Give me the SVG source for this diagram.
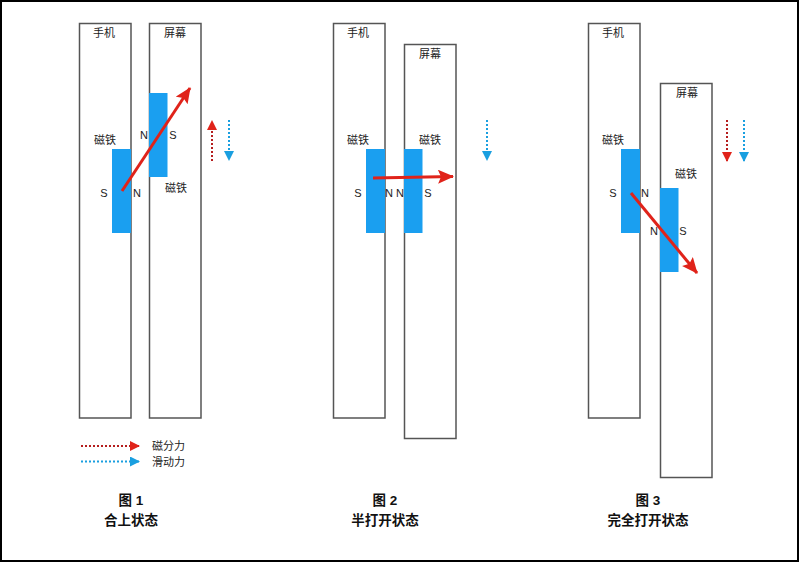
<svg xmlns="http://www.w3.org/2000/svg" width="800" height="563" viewBox="0 0 800 563">
<defs>
<style>
.body{fill:#fff;stroke:#555;stroke-width:1.5}
.mag{fill:#1a9ff0;stroke:none}
.lbl{font-family:"Liberation Sans","Noto Sans CJK SC",sans-serif;font-size:11px;fill:#222;text-anchor:middle;dominant-baseline:central}
.cap{font-family:"Liberation Sans","Noto Sans CJK SC",sans-serif;font-size:13.5px;font-weight:bold;fill:#111;text-anchor:middle;dominant-baseline:central}
.force{stroke:#e0231a;stroke-width:3;fill:none;marker-end:url(#bigHead)}
.rdot{stroke:#b51e1e;stroke-width:2;stroke-dasharray:2 2;fill:none;marker-end:url(#redHead)}
.bdot{stroke:#1a9fe0;stroke-width:2;stroke-dasharray:2 2;fill:none;marker-end:url(#blueHead)}
</style>
<marker id="bigHead" markerUnits="userSpaceOnUse" markerWidth="18" markerHeight="16" refX="15" refY="7" orient="auto">
<path d="M0,0 L16,7 L0,14 L3,7 Z" fill="#e0231a"/>
</marker>
<marker id="redHead" markerUnits="userSpaceOnUse" markerWidth="12" markerHeight="12" refX="9" refY="5" orient="auto">
<path d="M0,0 L10,5 L0,10 Z" fill="#e0231a"/>
</marker>
<marker id="blueHead" markerUnits="userSpaceOnUse" markerWidth="12" markerHeight="12" refX="9" refY="5" orient="auto">
<path d="M0,0 L10,5 L0,10 Z" fill="#1a9fe0"/>
</marker>
</defs>
<rect x="0" y="0" width="800" height="563" fill="#fff"/>
<rect x="1" y="1" width="797" height="560" fill="none" stroke="#000" stroke-width="2"/>

<!-- Figure 1 -->
<g id="fig1-phone">
<rect class="body" x="79.5" y="23.5" width="51.5" height="394.5"/>
<rect class="mag" x="112" y="149" width="19" height="84"/>
<text class="lbl" x="104" y="33">手机</text>
<text class="lbl" x="105" y="140">磁铁</text>
<text class="lbl" x="104" y="193">S</text>
<text class="lbl" x="137" y="193">N</text>
</g>
<g id="fig1-screen">
<rect class="body" x="149.5" y="23.5" width="51.5" height="394.5"/>
<rect class="mag" x="149" y="93" width="18.5" height="84"/>
<text class="lbl" x="175" y="33">屏幕</text>
<text class="lbl" x="144" y="135">N</text>
<text class="lbl" x="173" y="135">S</text>
<text class="lbl" x="176" y="188">磁铁</text>
</g>

<!-- Figure 2 -->
<g id="fig2-phone">
<rect class="body" x="333.5" y="23.5" width="51.5" height="394.5"/>
<rect class="mag" x="366" y="149" width="19" height="84"/>
<text class="lbl" x="358" y="33">手机</text>
<text class="lbl" x="358" y="140">磁铁</text>
<text class="lbl" x="358" y="193">S</text>
<text class="lbl" x="389" y="193">N</text>
</g>
<g id="fig2-screen">
<rect class="body" x="404.5" y="44.5" width="51.5" height="394"/>
<rect class="mag" x="404" y="149" width="18.5" height="84"/>
<text class="lbl" x="430" y="54">屏幕</text>
<text class="lbl" x="430" y="140">磁铁</text>
<text class="lbl" x="400" y="193">N</text>
<text class="lbl" x="428" y="193">S</text>
</g>

<!-- Figure 3 -->
<g id="fig3-phone">
<rect class="body" x="588.5" y="23.5" width="51.5" height="394.5"/>
<rect class="mag" x="621" y="149" width="19" height="84"/>
<text class="lbl" x="613" y="33">手机</text>
<text class="lbl" x="613" y="140">磁铁</text>
<text class="lbl" x="613" y="193">S</text>
<text class="lbl" x="645" y="193">N</text>
</g>
<g id="fig3-screen">
<rect class="body" x="660.5" y="83.5" width="51.5" height="394"/>
<rect class="mag" x="660" y="188" width="18.5" height="84"/>
<text class="lbl" x="687" y="93">屏幕</text>
<text class="lbl" x="686" y="174">磁铁</text>
<text class="lbl" x="654" y="231">N</text>
<text class="lbl" x="683" y="231">S</text>
</g>

<g id="connectors">
<line class="force" x1="122" y1="191" x2="190" y2="88"/>
<line class="force" x1="373" y1="178" x2="453" y2="176.5"/>
<line class="force" x1="631" y1="193" x2="697" y2="273"/>
<line class="rdot" x1="212" y1="161" x2="212" y2="121"/>
<line class="bdot" x1="229" y1="120" x2="229" y2="160"/>
<line class="bdot" x1="487" y1="120" x2="487" y2="160"/>
<line class="rdot" x1="727" y1="120" x2="727" y2="161"/>
<line class="bdot" x1="744" y1="120" x2="744" y2="161"/>
</g>

<g id="legend">
<line class="rdot" x1="81" y1="446" x2="139" y2="446"/>
<line class="bdot" x1="81" y1="461.5" x2="139" y2="461.5"/>
<text class="lbl" x="152" y="446" style="text-anchor:start">磁分力</text>
<text class="lbl" x="152" y="462" style="text-anchor:start">滑动力</text>
</g>

<g id="captions">
<text class="cap" x="131" y="500">图 1</text>
<text class="cap" x="131" y="520">合上状态</text>
<text class="cap" x="385" y="500">图 2</text>
<text class="cap" x="385" y="520">半打开状态</text>
<text class="cap" x="648" y="500">图 3</text>
<text class="cap" x="648" y="520">完全打开状态</text>
</g>
</svg>
